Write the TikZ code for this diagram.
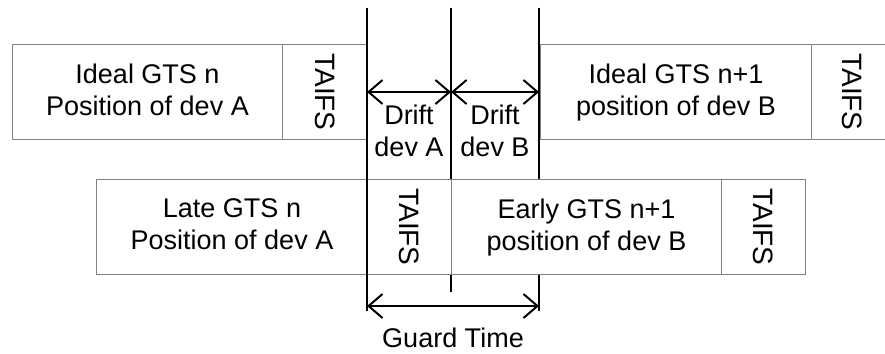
\documentclass[tikz,border=0pt]{standalone}
\usepackage{fontspec}
\setmainfont{Liberation Sans}
\usetikzlibrary{arrows.meta}
\definecolor{frame}{RGB}{128,128,128}
\begin{document}
\begin{tikzpicture}[x=1pt,y=-1pt,
  slot/.style={draw=frame, fill=white, line width=1pt, inner sep=0pt,
    anchor=north west, minimum height=95pt, align=center,
    font=\fontsize{27}{32}\selectfont, text depth=5pt},
  ifslabel/.style={rotate=-90, inner sep=0pt, font=\fontsize{28}{32}\selectfont},
  plain/.style={inner sep=0pt, align=center, font=\fontsize{27}{32}\selectfont},
  guide/.style={line width=2pt, black},
  span/.style={line width=2pt, black,
    {Straight Barb[length=14pt,width=24pt,line width=2pt]}-{Straight Barb[length=14pt,width=24pt,line width=2pt]}}
]
\useasboundingbox (0,0) rectangle (885,353);
\clip (0,0) rectangle (885,353);

% guide lines that mark the slot borders
\coordinate (g1t) at (367,8);   \coordinate (g1b) at (367,311);
\coordinate (g2t) at (451,8);   \coordinate (g2b) at (451,292);
\coordinate (g3t) at (539,8);   \coordinate (g3b) at (539,311);
\draw[guide] (g2t) -- (g2b);
\draw[guide] (g3t) -- (g3b);

% ideal slots (upper row)
\node[slot, minimum width=270pt] (idA) at (12,44) {Ideal GTS n\\Position of dev A};
\node[slot, minimum width=85pt] (idAifs) at (282,44) {};
\node[slot, minimum width=271pt] (idB) at (540,44) {Ideal GTS n+1\\position of dev B};
\node[slot, minimum width=82pt] (idBifs) at (811,44) {};

% shifted slots (lower row)
\node[slot, minimum width=271pt] (lateA) at (96,179) {Late GTS n\\Position of dev A};
\node[slot, minimum width=84pt] (lateAifs) at (367,179) {};
\node[slot, minimum width=270pt] (earlyB) at (451,179) {Early GTS n+1\\position of dev B};
\node[slot, minimum width=84pt] (earlyBifs) at (721,179) {};

\foreach \n in {idAifs,idBifs,lateAifs,earlyBifs}
  \node[ifslabel] at (\n.center) {TAIFS};

\draw[guide] (g1t) -- (g1b);

% drift and guard time spans
\coordinate (d1) at (367,92); \coordinate (d2) at (451,92); \coordinate (d3) at (539,92);
\draw[span] (d1) -- (d2);
\draw[span] (d2) -- (d3);
\coordinate (t1) at (367,306); \coordinate (t3) at (539,306);
\draw[span] (t1) -- (t3);

\node[plain] (driftA) at (409,131) {Drift\\dev A};
\node[plain] (driftB) at (495,131) {Drift\\dev B};
\node[plain] (guard) at (453,338) {Guard Time};
\end{tikzpicture}
\end{document}
